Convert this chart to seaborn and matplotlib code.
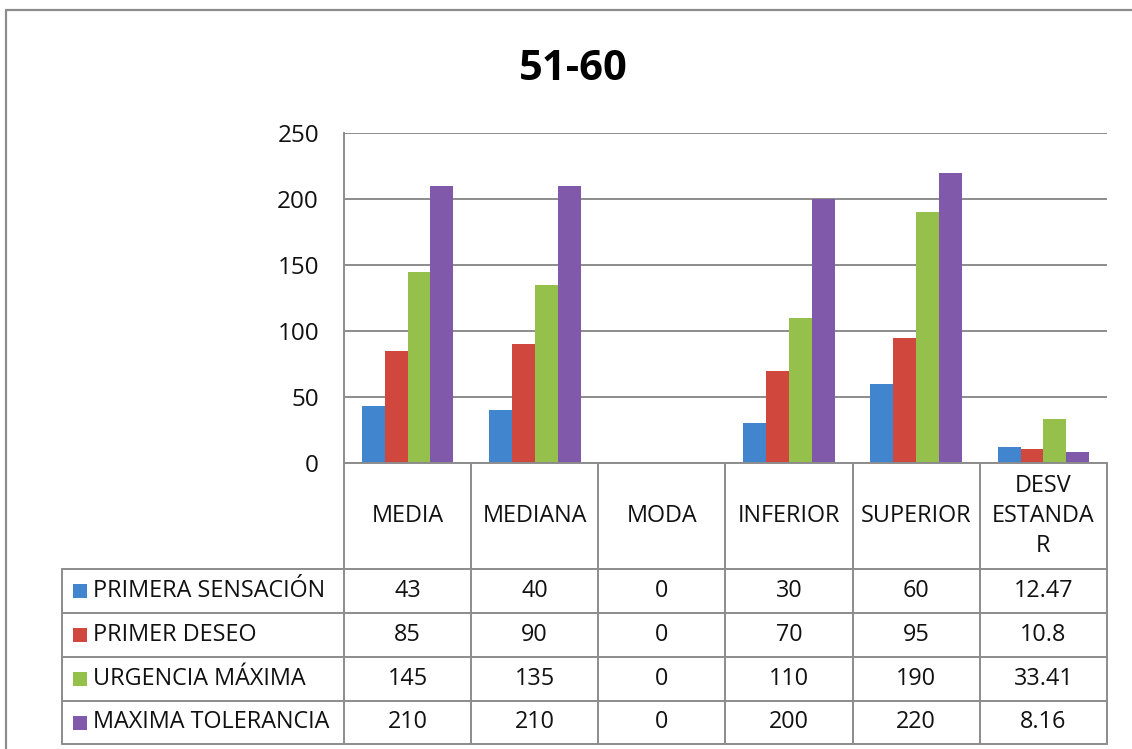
import matplotlib
matplotlib.use("Agg")
import matplotlib.pyplot as plt
import matplotlib.transforms as mtransforms
from matplotlib.lines import Line2D
from matplotlib.patches import Rectangle
import seaborn as sns
import pandas as pd

# ---------------- data ----------------
title = "51-60"
categories = ["MEDIA", "MEDIANA", "MODA", "INFERIOR", "SUPERIOR", "DESV ESTANDAR"]
header_labels = ["MEDIA", "MEDIANA", "MODA", "INFERIOR", "SUPERIOR", "DESV\nESTANDA\nR"]
series = ["PRIMERA SENSACIÓN", "PRIMER DESEO", "URGENCIA MÁXIMA", "MAXIMA TOLERANCIA"]
primera_sensacion = [43, 40, 0, 30, 60, 12.47]
primer_deseo = [85, 90, 0, 70, 95, 10.8]
urgencia_maxima = [145, 135, 0, 110, 190, 33.41]
maxima_tolerancia = [210, 210, 0, 200, 220, 8.16]
values = [primera_sensacion, primer_deseo, urgencia_maxima, maxima_tolerancia]
colors = ["#4285CF", "#D0473D", "#96C04C", "#8159AB"]
yticks = [0, 50, 100, 150, 200, 250]

rows = []
for s, vals in zip(series, values):
    for c, v in zip(categories, vals):
        rows.append({"Estadístico": c, "Valor": v, "Serie": s})
df = pd.DataFrame(rows)

# ---------------- style ----------------
sns.set_style("white")
plt.rcParams["font.family"] = ["Open Sans", "DejaVu Sans"]
GRAY = "#8C8C8C"
TXT = "#111111"
FS = 16.8

W, H = 1132, 749
fig = plt.figure(figsize=(W / 100, H / 100), dpi=100)


def fx(px):
    return px / W


def fy(py):
    return 1 - py / H


ax = fig.add_axes([fx(344), fy(463), fx(1107) - fx(344), fy(133) - fy(463)])

sns.barplot(data=df, x="Estadístico", y="Valor", hue="Serie",
            order=categories, hue_order=series, palette=colors,
            saturation=1, width=0.72, errorbar=None, legend=False,
            linewidth=0, ax=ax)

ax.set_xlim(-0.5, len(categories) - 0.5)
ax.set_ylim(0, 250)
ax.set_yticks(yticks)
ax.set_xticks([])
ax.set_xlabel("")
ax.set_ylabel("")
ax.yaxis.grid(True, color=GRAY, linewidth=1.4)
ax.set_axisbelow(True)
for sp in ["top", "right", "bottom"]:
    ax.spines[sp].set_visible(False)
ax.spines["left"].set_color(GRAY)
ax.spines["left"].set_linewidth(1.4)
ax.tick_params(axis="y", length=0, pad=18, labelsize=17.5, labelcolor=TXT)

# ---------------- title ----------------
fig.text(fx(573), fy(70), title, ha="center", va="center",
         fontsize=30, fontweight="bold", color="#000000")

# ---------------- outer frame ----------------
fig.add_artist(Line2D([fx(6), fx(6)], [fy(10), 0], transform=fig.transFigure,
                      color=GRAY, linewidth=1.6))
fig.add_artist(Line2D([fx(6), 1], [fy(10), fy(10)], transform=fig.transFigure,
                      color=GRAY, linewidth=1.6))

# ---------------- data table ----------------
blend = mtransforms.blended_transform_factory(ax.transData, fig.transFigure)
n = len(categories)
y_top = fy(463)
y_head = fy(569)
row_lines = [fy(569), fy(613), fy(657), fy(701), fy(744)]
x_left = fx(62)


def data_to_figx(xd):
    return fig.transFigure.inverted().transform(ax.transData.transform((xd, 0)))[0]


x_plot_left = data_to_figx(-0.5)
x_plot_right = data_to_figx(n - 0.5)

# vertical lines between columns
for i in range(n + 1):
    fig.add_artist(Line2D([i - 0.5, i - 0.5], [y_top, row_lines[-1]], transform=blend,
                          color=GRAY, linewidth=1.4))
# left border of legend column
fig.add_artist(Line2D([x_left, x_left], [y_head, row_lines[-1]], transform=fig.transFigure,
                      color=GRAY, linewidth=1.4))
# horizontal lines
fig.add_artist(Line2D([x_plot_left, x_plot_right], [y_top, y_top], transform=fig.transFigure,
                      color=GRAY, linewidth=1.4))
for yl in row_lines:
    fig.add_artist(Line2D([x_left, x_plot_right], [yl, yl], transform=fig.transFigure,
                          color=GRAY, linewidth=1.4))

# header labels
for i, lab in enumerate(header_labels):
    fig.text(i, (y_top + y_head) / 2, lab, transform=blend, ha="center", va="center",
             fontsize=FS, color=TXT, linespacing=1.35)

# rows
for r, (s, vals, col) in enumerate(zip(series, values, colors)):
    yc = (row_lines[r] + row_lines[r + 1]) / 2
    sq = 14
    fig.add_artist(Rectangle((fx(73), yc - (sq / 2) / H), sq / W, sq / H,
                             transform=fig.transFigure, facecolor=col, edgecolor="none"))
    fig.text(fx(93), yc, s, ha="left", va="center", fontsize=FS, color=TXT)
    for i, v in enumerate(vals):
        fig.text(i, yc, f"{v:g}", transform=blend, ha="center", va="center",
                 fontsize=FS, color=TXT)

fig.savefig("out.png", dpi=100)
